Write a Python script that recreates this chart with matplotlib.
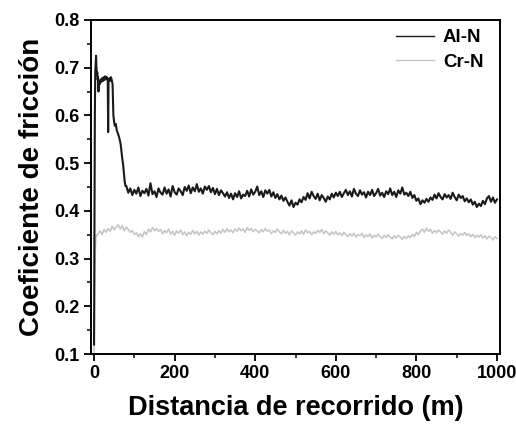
import matplotlib
matplotlib.use("Agg")
import matplotlib.pyplot as plt
from matplotlib.ticker import MultipleLocator
import numpy as np

plt.rcParams['font.family'] = ['Liberation Sans', 'DejaVu Sans']
plt.rcParams['font.weight'] = 'bold'

# Al-N: running-in part, read point by point
al_x_start = [0, 1, 2, 3, 4, 5, 6, 7, 8, 9, 10, 11, 12, 14, 16, 18, 20, 22, 24, 26,
              28, 30, 32, 34, 35, 36, 38, 40, 42, 44, 46, 48, 50, 52, 54, 56, 58, 60,
              62, 64, 66, 68, 70, 72, 74, 76, 78]
al_y_start = [0.12, 0.35, 0.60, 0.69, 0.71, 0.725, 0.70, 0.685, 0.69, 0.675, 0.68, 0.65,
              0.672, 0.665, 0.675, 0.670, 0.678, 0.672, 0.680, 0.674, 0.682, 0.676, 0.680,
              0.672, 0.565, 0.670, 0.678, 0.672, 0.680, 0.674, 0.665, 0.600, 0.585, 0.578,
              0.582, 0.570, 0.565, 0.560, 0.555, 0.548, 0.540, 0.525, 0.510, 0.498, 0.480,
              0.462, 0.452]

# Al-N: steady part, every 5 m from 80 m to 1000 m
al_x_steady = np.arange(80, 1001, 5)
al_y_steady = [
    0.452, 0.438, 0.447, 0.433, 0.444, 0.436, 0.449, 0.431, 0.442, 0.437,
    0.446, 0.432, 0.458, 0.435, 0.441, 0.429, 0.447, 0.438, 0.434, 0.449,
    0.436, 0.445, 0.430, 0.452, 0.439, 0.434, 0.447, 0.441, 0.433, 0.450,
    0.442, 0.453, 0.437, 0.449, 0.441, 0.456, 0.440, 0.447, 0.436, 0.451,
    0.444, 0.452, 0.439, 0.448, 0.435, 0.446, 0.433, 0.443, 0.437, 0.430,
    0.439, 0.427, 0.436, 0.424, 0.437, 0.429, 0.441, 0.426, 0.434, 0.431,
    0.442, 0.430, 0.445, 0.434, 0.440, 0.451, 0.433, 0.441, 0.429, 0.443,
    0.436, 0.444, 0.430, 0.439, 0.427, 0.435, 0.424, 0.432, 0.421, 0.428,
    0.419, 0.411, 0.422, 0.408, 0.417, 0.413, 0.424, 0.418, 0.429, 0.423,
    0.437, 0.426, 0.440, 0.431, 0.425, 0.436, 0.422, 0.433, 0.427, 0.419,
    0.430, 0.424, 0.436, 0.428, 0.438, 0.431, 0.440, 0.429, 0.437, 0.444,
    0.433, 0.441, 0.430, 0.446, 0.436, 0.431, 0.443, 0.434, 0.439, 0.428,
    0.440, 0.433, 0.444, 0.431, 0.437, 0.446, 0.432, 0.438, 0.429, 0.441,
    0.435, 0.447, 0.433, 0.440, 0.429, 0.443, 0.436, 0.449, 0.434, 0.438,
    0.431, 0.440, 0.427, 0.433, 0.421, 0.426, 0.414, 0.422, 0.417, 0.425,
    0.419, 0.428, 0.423, 0.434, 0.426, 0.437, 0.429, 0.424, 0.435, 0.428,
    0.433, 0.425, 0.438, 0.429, 0.422, 0.434, 0.427, 0.431, 0.420, 0.426,
    0.418, 0.424, 0.413, 0.419, 0.408, 0.415, 0.410, 0.421, 0.414, 0.426,
    0.431, 0.419, 0.428, 0.417, 0.424,
]

# Cr-N: start, then every 5 m from 10 m to 1000 m
cr_x_start = [0, 1, 2, 3, 4, 5, 6, 8]
cr_y_start = [0.10, 0.16, 0.25, 0.31, 0.335, 0.345, 0.350, 0.348]
cr_x_steady = np.arange(10, 1001, 5)
cr_y_steady = [
    0.352, 0.358, 0.350, 0.361, 0.355, 0.363, 0.357, 0.368, 0.360, 0.366,
    0.371, 0.362, 0.369, 0.358, 0.366, 0.361, 0.355, 0.359, 0.350, 0.354,
    0.346, 0.352, 0.345, 0.357, 0.350, 0.362, 0.356, 0.365, 0.358, 0.363,
    0.357, 0.361, 0.352, 0.359, 0.354, 0.362, 0.351, 0.357, 0.349, 0.358,
    0.353, 0.360, 0.350, 0.356, 0.348, 0.355, 0.351, 0.359, 0.352, 0.357,
    0.349, 0.356, 0.351, 0.358, 0.353, 0.360, 0.354, 0.350, 0.357, 0.352,
    0.359, 0.353, 0.361, 0.355, 0.363, 0.356, 0.360, 0.354, 0.362, 0.357,
    0.364, 0.358, 0.362, 0.355, 0.365, 0.359, 0.363, 0.356, 0.361, 0.358,
    0.354, 0.361, 0.356, 0.363, 0.357, 0.360, 0.352, 0.358, 0.355, 0.362,
    0.356, 0.352, 0.359, 0.353, 0.357, 0.350, 0.358, 0.354, 0.349, 0.356,
    0.352, 0.358, 0.351, 0.360, 0.354, 0.357, 0.350, 0.356, 0.353, 0.359,
    0.355, 0.361, 0.352, 0.358, 0.354, 0.349, 0.356, 0.351, 0.357, 0.350,
    0.354, 0.348, 0.355, 0.350, 0.346, 0.352, 0.347, 0.353, 0.345, 0.350,
    0.348, 0.353, 0.344, 0.350, 0.346, 0.352, 0.343, 0.349, 0.345, 0.351,
    0.346, 0.342, 0.349, 0.344, 0.350, 0.345, 0.341, 0.348, 0.343, 0.349,
    0.345, 0.340, 0.347, 0.342, 0.348, 0.344, 0.351, 0.346, 0.355, 0.350,
    0.358, 0.362, 0.355, 0.364, 0.357, 0.361, 0.353, 0.359, 0.354, 0.360,
    0.356, 0.351, 0.358, 0.353, 0.360, 0.355, 0.349, 0.356, 0.352, 0.347,
    0.353, 0.349, 0.355, 0.348, 0.352, 0.346, 0.351, 0.344, 0.349, 0.345,
    0.350, 0.343, 0.348, 0.341, 0.347, 0.344, 0.339, 0.346, 0.342,
]

al_x = np.concatenate([al_x_start, al_x_steady])
al_y = np.concatenate([al_y_start, al_y_steady])
cr_x = np.concatenate([cr_x_start, cr_x_steady])
cr_y = np.concatenate([cr_y_start, cr_y_steady])

fig = plt.figure(figsize=(5.16, 4.24), dpi=100)
ax = fig.add_axes([0.1764, 0.165, 0.7926, 0.788])

ax.plot(cr_x, cr_y, color='#c4c4c4', lw=1.1, label='Cr-N')
ax.plot(al_x, al_y, color='#1a1a1a', lw=1.5, label='Al-N')

ax.set_xlim(-7.5, 1007.5)
ax.set_ylim(0.1, 0.8)
ax.xaxis.set_major_locator(MultipleLocator(200))
ax.xaxis.set_minor_locator(MultipleLocator(100))
ax.yaxis.set_major_locator(MultipleLocator(0.1))
ax.yaxis.set_minor_locator(MultipleLocator(0.05))
ax.yaxis.set_major_formatter(plt.FuncFormatter(lambda v, p: f'{v:.1f}'))

for s in ax.spines.values():
    s.set_linewidth(1.4)
ax.tick_params(which='major', direction='out', length=5, width=1.3, labelsize=13, pad=3)
ax.tick_params(which='minor', direction='out', length=3, width=1.1)

ax.set_xlabel('Distancia de recorrido (m)', fontsize=19.5, fontweight='bold', labelpad=9)
ax.set_ylabel('Coeficiente de fricción', fontsize=20, fontweight='bold', labelpad=7)

h, l = ax.get_legend_handles_labels()
leg = ax.legend(h[::-1], l[::-1], loc='upper right', bbox_to_anchor=(0.978, 0.995),
                frameon=False, fontsize=13.5, handlelength=2.0, handletextpad=0.5,
                borderaxespad=0.0, labelspacing=0.4)
for line in leg.get_lines():
    line.set_linewidth(1.0)

fig.savefig('out.png', dpi=100)
